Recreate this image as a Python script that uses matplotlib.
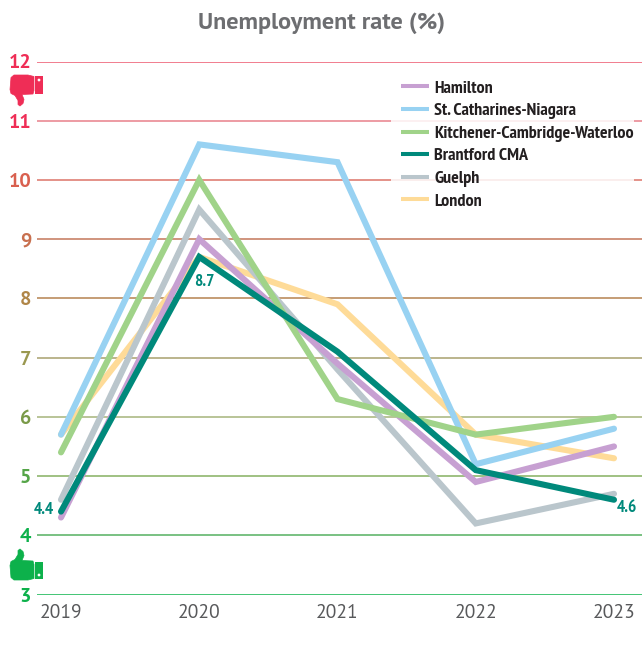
import matplotlib.pyplot as plt
from matplotlib.path import Path
from matplotlib.patches import PathPatch, Rectangle, Circle
from matplotlib.transforms import Affine2D

W, H = 642, 650

years = [2019, 2020, 2021, 2022, 2023]
hamilton = [4.3, 9.0, 6.9, 4.9, 5.5]
st_catharines = [5.7, 10.6, 10.3, 5.2, 5.8]
kitchener = [5.4, 10.0, 6.3, 5.7, 6.0]
brantford = [4.4, 8.7, 7.1, 5.1, 4.6]
guelph = [4.6, 9.5, 6.8, 4.2, 4.7]
london = [5.7, 8.7, 7.9, 5.7, 5.3]

grid_values = [12, 11, 10, 9, 8, 7, 6, 5, 4, 3]
grid_colors = ['#EE5A70', '#E8808A', '#DD7468', '#C4775A', '#B5824F',
               '#A8A06E', '#A5B47A', '#85B060', '#55B060', '#10B550']
tick_colors = ['#EF2D56', '#EF2D56', '#D9604F', '#C8704F', '#B08648',
               '#9A9850', '#7A9A48', '#55A548', '#0DB14B', '#0DB14B']

plt.rcParams['font.family'] = ['PT Sans', 'Open Sans', 'DejaVu Sans']
narrow = ['PT Sans Narrow', 'Open Sans Condensed', 'Roboto Condensed', 'DejaVu Sans']

fig = plt.figure(figsize=(W / 100, H / 100), dpi=100)
# axes in pixels: gridlines run from x=37 to the right edge, y=12 at 61.5, y=3 at 594.5
ax = fig.add_axes([37 / W, 1 - 594.5 / H, (W - 37) / W, 533 / H])
ax.set_xlim(2019 - 24 / 138.25, 2019 + 581 / 138.25)
ax.set_ylim(3, 12)
for s in ax.spines.values():
    s.set_visible(False)

for v, c in zip(grid_values, grid_colors):
    ax.axhline(v, color=c, lw=1.1, zorder=1)

# pixel coords, y down
to_px = Affine2D().scale(1, -1).translate(0, H)

# faded box behind the legend
ax.add_patch(Rectangle((391, 75), 243, 140, fc='white', ec='none', alpha=0.85,
                       transform=to_px, zorder=1.5))

series = [
    ('London', london, '#FEDB98', 2),
    ('Guelph', guelph, '#BAC6CC', 3),
    ('Hamilton', hamilton, '#C7A0D2', 4),
    ('St. Catharines-Niagara', st_catharines, '#98D2F2', 5),
    ('Kitchener-Cambridge-Waterloo', kitchener, '#A0D389', 6),
    ('Brantford CMA', brantford, '#00897B', 7),
]
lines = {}
for name, vals, col, z in series:
    lines[name], = ax.plot(years, vals, color=col, lw=4.4, zorder=z,
                           solid_capstyle='round', solid_joinstyle='miter', label=name)

ax.set_xticks(years)
ax.set_yticks(grid_values)
ax.tick_params(length=0)
ax.tick_params(axis='x', labelsize=14, labelcolor='#58595B', pad=6.7)
ax.set_yticklabels([])
for v, c in zip(grid_values, tick_colors):
    ax.annotate(str(v), (0, v), xycoords=('axes fraction', 'data'), xytext=(-4.3, 0),
                textcoords='offset points', ha='right', va='center_baseline',
                fontsize=14.5, fontweight='bold', color=c, annotation_clip=False)

fig.text(321.5 / W, 1 - 23.5 / H, 'Unemployment rate (%)', ha='center', va='center',
         fontsize=17.5, fontweight='bold', color='#6D6E71')

order = ['Hamilton', 'St. Catharines-Niagara', 'Kitchener-Cambridge-Waterloo',
         'Brantford CMA', 'Guelph', 'London']
leg = ax.legend([lines[n] for n in order], order, loc='upper left',
                bbox_to_anchor=(364 / 605, (594.5 - 80) / 533), frameon=False,
                borderpad=0, borderaxespad=0, handlelength=1.55, handletextpad=0.28,
                labelspacing=0.33,
                prop={'family': narrow, 'weight': 'bold', 'size': 13})
leg.set_zorder(8)
for t in leg.get_texts():
    t.set_color('#231F20')
for h in leg.get_lines():
    h.set_linewidth(2.9)
    h.set_solid_capstyle('butt')

teal = '#00897B'
ax.text(2020.04, 8.28, '8.7', ha='center', va='center', color=teal, fontsize=12.5,
        fontweight='bold', family=narrow, zorder=9)
ax.text(2018.95, 4.42, '4.4', ha='right', va='center', color=teal, fontsize=12.5,
        fontweight='bold', family=narrow, zorder=9)
ax.text(2023.09, 4.46, '4.6', ha='center', va='center', color=teal, fontsize=12.5,
        fontweight='bold', family=narrow, zorder=9)


def thumb(yc, col, down):
    # shape traced pointing up, y relative to icon centre, mirrored for the red one
    tf = Affine2D().scale(1, -1 if down else 1).translate(0, yc) + to_px
    verts = [(20, -15.5), (23, -13), (24, -9), (22, -4), (33, -3.5), (34, 0), (34, 14), (28, 15.5),
             (14, 15.5), (11, 13), (10, 1), (11, -3), (15, -5), (18, -10), (18, -14), (20, -15.5)]
    codes = [Path.MOVETO] + [Path.LINETO] * (len(verts) - 2) + [Path.CLOSEPOLY]
    fig.add_artist(PathPatch(Path(verts, codes), fc=col, ec=col, lw=0.5, transform=tf))
    fig.add_artist(Rectangle((35, -3), 8, 17.5, fc=col, ec='none', transform=tf))
    fig.add_artist(Circle((39, 10.5), 1.4, fc='white', ec='none', transform=tf))


thumb(90.5, '#EF2D56', True)
thumb(564.5, '#0DB14B', False)

fig.savefig('out.png', dpi=100)
